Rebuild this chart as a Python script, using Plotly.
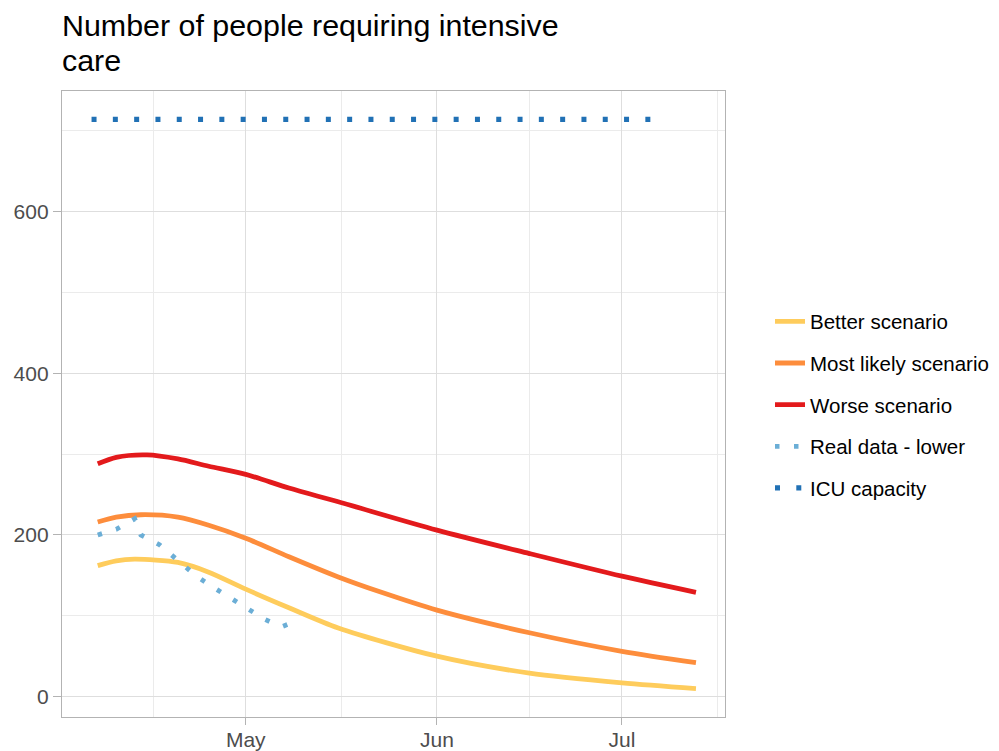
import plotly.graph_objects as go

# ---- data ----
worse_dates = ["2020-04-07", "2020-04-10", "2020-04-15", "2020-04-20", "2020-04-25", "2020-05-01",
               "2020-05-08", "2020-05-16", "2020-06-01", "2020-06-16", "2020-07-01", "2020-07-13"]
worse_vals = [288, 296, 299, 294, 285, 275, 258, 241, 206, 177, 149, 129]

likely_dates = ["2020-04-07", "2020-04-10", "2020-04-14", "2020-04-20", "2020-04-25", "2020-05-01",
                "2020-05-08", "2020-05-16", "2020-05-23", "2020-06-01", "2020-06-16", "2020-07-01", "2020-07-13"]
likely_vals = [216, 222, 225, 222, 212, 196, 173, 148, 129, 107, 79, 56, 42]

better_dates = ["2020-04-07", "2020-04-10", "2020-04-13", "2020-04-20", "2020-04-25", "2020-05-01",
                "2020-05-08", "2020-05-16", "2020-06-01", "2020-06-16", "2020-07-01", "2020-07-13"]
better_vals = [162, 168, 170, 166, 154, 133, 110, 85, 50, 29, 17, 10]

real_dates = ["2020-04-07", "2020-04-10", "2020-04-13", "2020-04-14", "2020-04-17", "2020-04-20",
              "2020-04-23", "2020-04-26", "2020-04-29", "2020-05-01", "2020-05-04", "2020-05-06",
              "2020-05-07", "2020-05-09"]
real_vals = [200, 207, 220, 200, 188, 168, 149, 134, 120, 109, 96, 89, 87, 93]

icu_dates = ["2020-04-06", "2020-07-06"]
icu_vals = [714, 714]

series_names = ["Better scenario", "Most likely scenario", "Worse scenario", "Real data - lower", "ICU capacity"]
colors = ["#FECC5C", "#FD8D3C", "#E31A1C", "#6BAED6", "#2171B5"]

title_lines = ["Number of people requiring intensive", "care"]

x_tickvals = ["2020-05-01", "2020-06-01", "2020-07-01"]
x_ticktext = ["May", "Jun", "Jul"]
x_minor = ["2020-04-16", "2020-05-16 12:00", "2020-06-16", "2020-07-16 12:00"]
y_tickvals = [0, 200, 400, 600]
y_minor = [100, 300, 500, 700]

FONT = "Liberation Sans, Arial, sans-serif"

# the page body has an 8px margin, so the figure is drawn 8px smaller and offset
OFF = 8
W, H = 999 - OFF, 751 - OFF
PL, PT, PR, PB = 62 - OFF, 91 - OFF, 725 - OFF, 717 - OFF  # panel edges in figure px

fig = go.Figure()
specs = [
    (better_dates, better_vals, "solid", 4.8, "spline"),
    (likely_dates, likely_vals, "solid", 4.8, "spline"),
    (worse_dates, worse_vals, "solid", 4.8, "spline"),
    (real_dates, real_vals, "4.5px,14.5px", 4.8, "linear"),
    (icu_dates, icu_vals, "5px,16.3px", 5.2, "linear"),
]
for i, (xs, ys, dash, w, shape) in enumerate(specs):
    fig.add_trace(go.Scatter(
        x=xs, y=ys, mode="lines", name=series_names[i], legendgroup=series_names[i],
        line=dict(color=colors[i], width=w, dash=dash, shape=shape, smoothing=0.8),
        hoverinfo="skip",
    ))

title_text = "<br>".join(f"<span style='font-size:30.4px'>{t}</span>" for t in title_lines)

fig.update_layout(
    width=W, height=H,
    margin=dict(l=PL, r=W - PR, t=PT, b=H - PB, autoexpand=False),
    paper_bgcolor="white", plot_bgcolor="white",
    font=dict(family=FONT, color="#000000"),
    title=dict(text=title_text, x=PL / W, xanchor="left",
               xref="container", yref="container", y=1 - 28 / H, yanchor="top",
               font=dict(size=26.8, family=FONT, color="#000000")),
    showlegend=True,
    legend=dict(x=(770 - 62) / 663, xanchor="left", y=(717 - 405) / 626, yanchor="middle",
                font=dict(size=20.5, family=FONT, color="#000000"),
                tracegroupgap=12, traceorder="grouped", bgcolor="rgba(0,0,0,0)"),
)

fig.update_xaxes(
    type="date", range=["2020-04-01 05:00", "2020-07-17 17:00"], automargin=False,
    tickmode="array", tickvals=x_tickvals, ticktext=x_ticktext,
    tickfont=dict(size=21, color="#4D4D4D", family=FONT),
    ticks="outside", ticklen=7, tickcolor="#B3B3B3", tickwidth=1, ticklabelstandoff=-3,
    showgrid=True, gridcolor="#DEDEDE", gridwidth=1,
    minor=dict(tickmode="array", tickvals=x_minor, showgrid=True, gridcolor="#EBEBEB", gridwidth=0.7, ticks=""),
    showline=True, linecolor="#B3B3B3", linewidth=1.3, mirror=True, zeroline=False,
)
fig.update_yaxes(
    range=[-25.2, 749.2], automargin=False,
    tickmode="array", tickvals=y_tickvals, ticktext=[str(v) for v in y_tickvals],
    tickfont=dict(size=21, color="#4D4D4D", family=FONT),
    ticks="outside", ticklen=8, tickcolor="#B3B3B3", tickwidth=1,
    showgrid=True, gridcolor="#DEDEDE", gridwidth=1,
    minor=dict(tickmode="array", tickvals=y_minor, showgrid=True, gridcolor="#EBEBEB", gridwidth=0.7, ticks=""),
    showline=True, linecolor="#B3B3B3", linewidth=1.3, mirror=True, zeroline=False,
)

fig.write_html("out.html")
